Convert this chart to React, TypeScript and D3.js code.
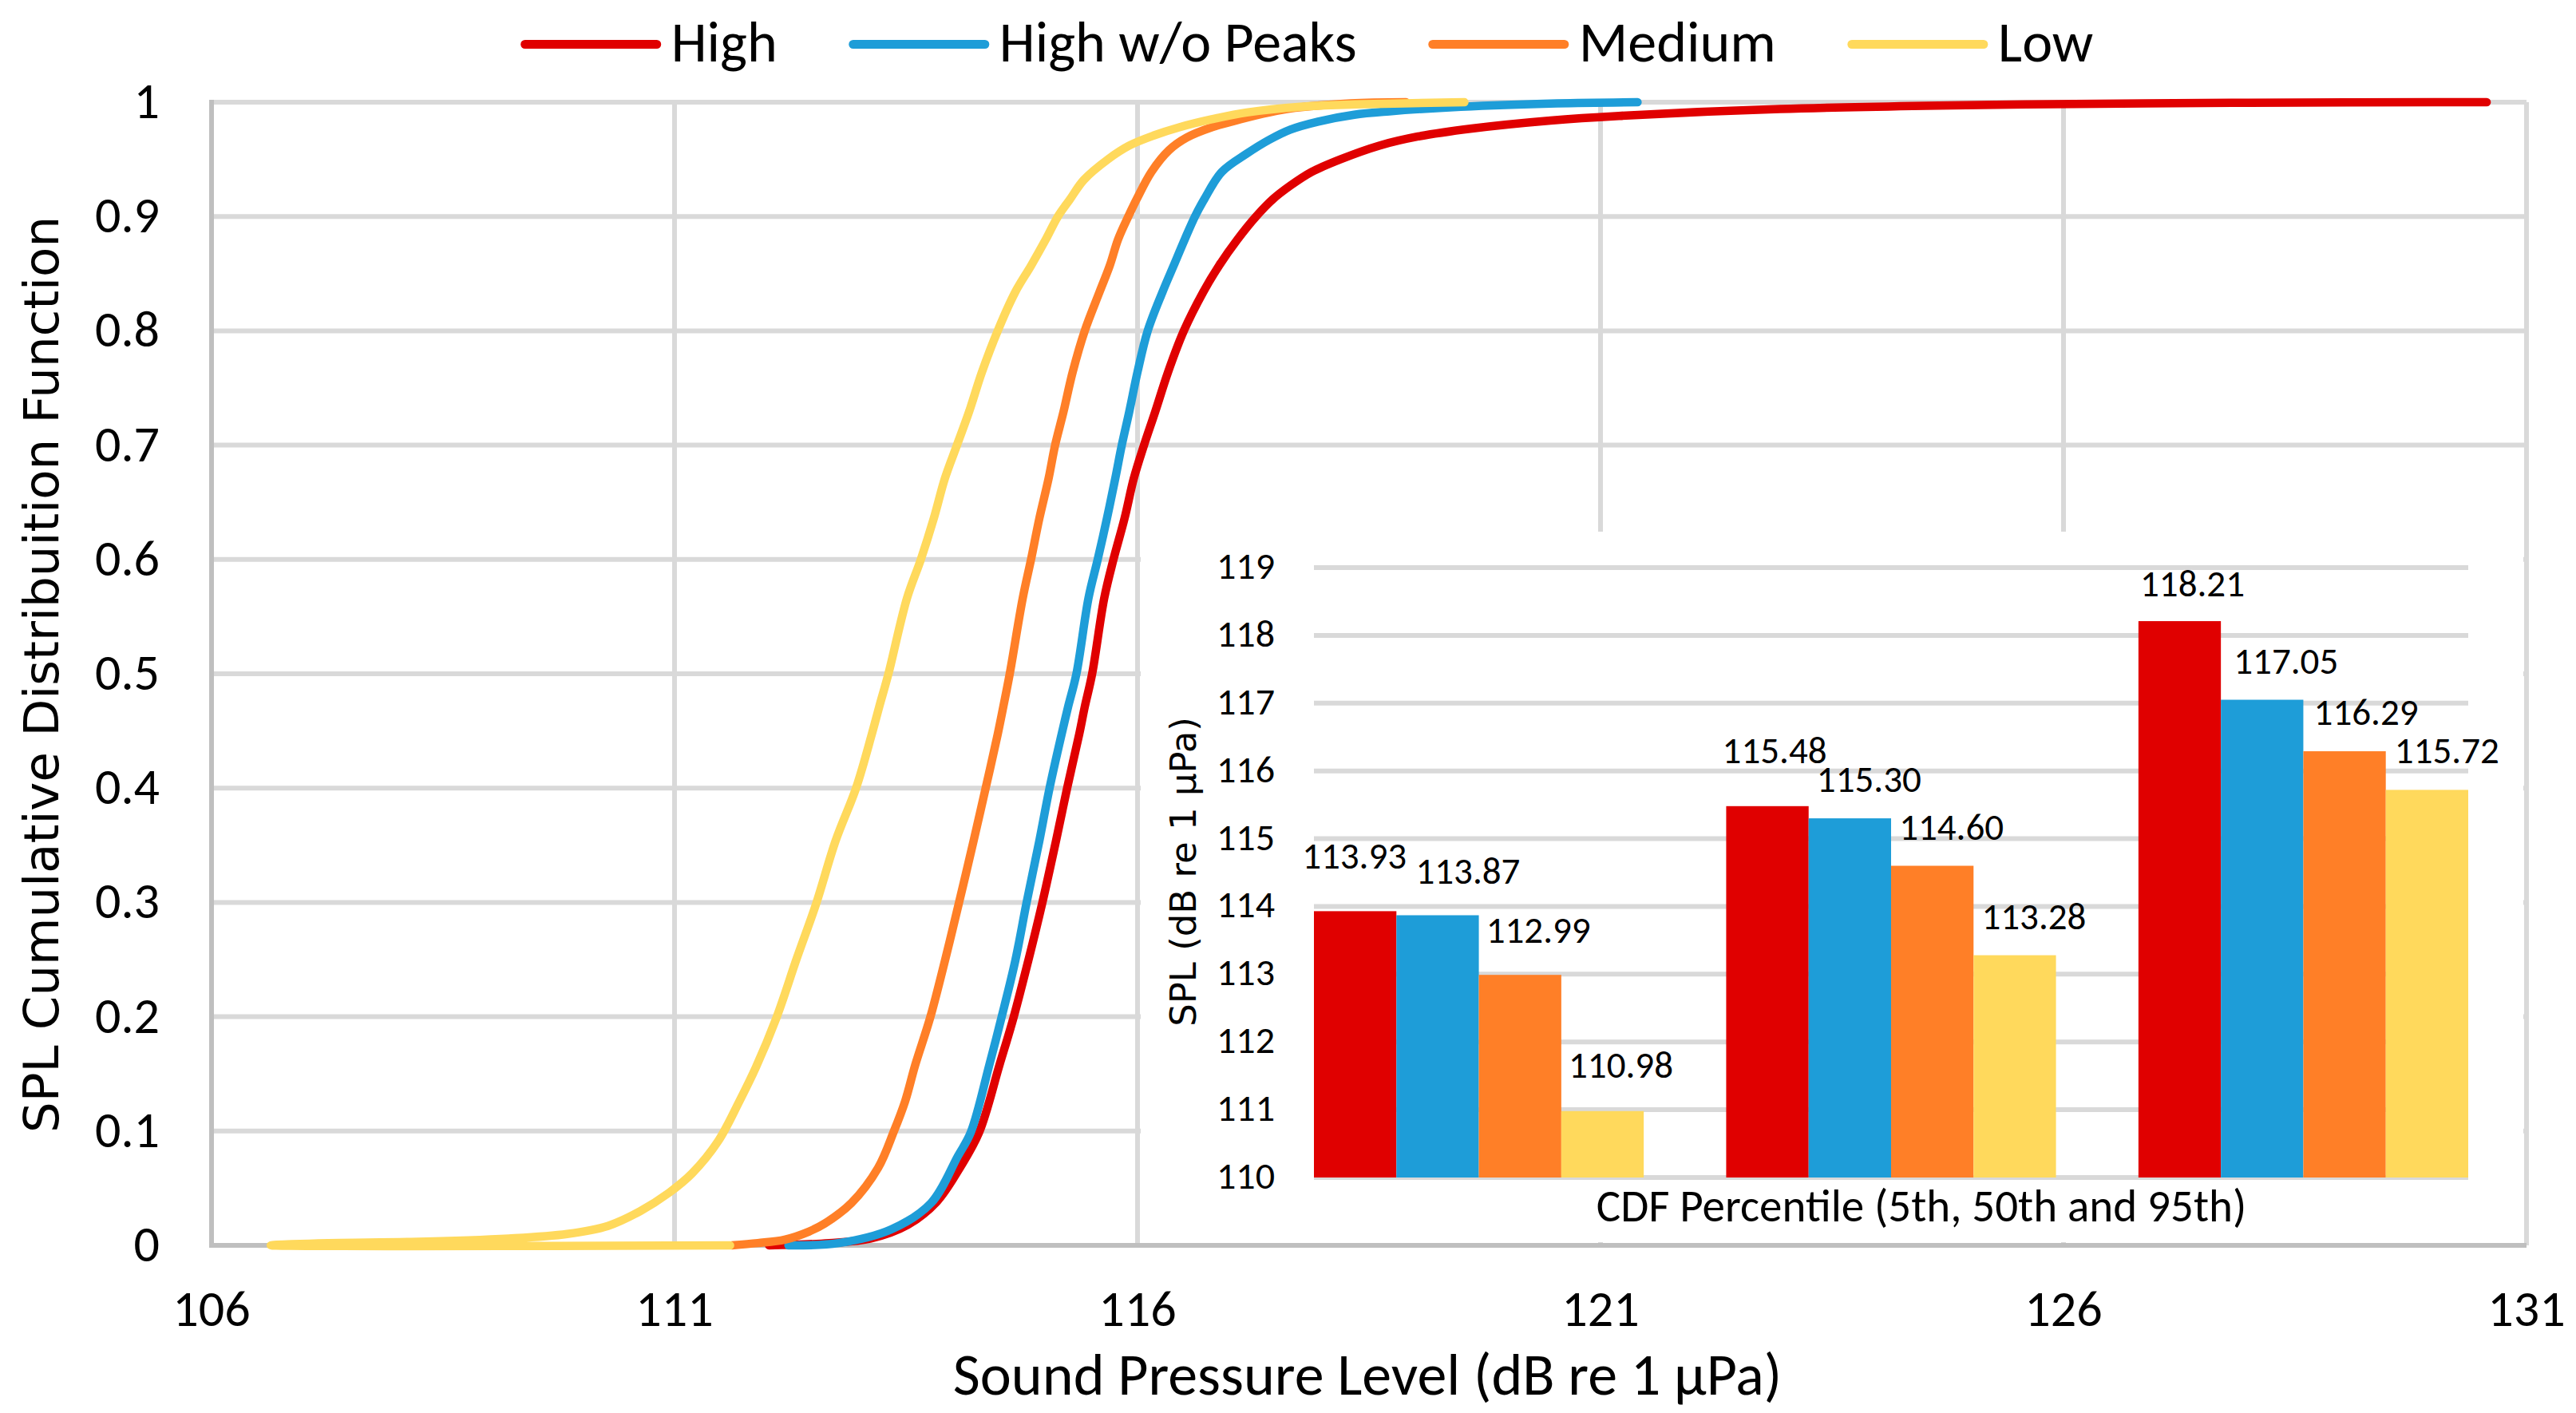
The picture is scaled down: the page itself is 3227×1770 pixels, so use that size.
import { useEffect, useRef } from 'react'
import * as d3 from 'd3'

// CDF curves, [SPL (dB), cumulative probability]
const highCdf: [number, number][] = [
  [112.02, 0], [112.67, 0.002], [113.12, 0.006], [113.52, 0.018], [113.83, 0.038], [114.09, 0.069],
  [114.29, 0.099], [114.51, 0.158], [114.66, 0.199], [114.82, 0.249], [114.97, 0.299], [115.12, 0.354],
  [115.24, 0.4], [115.37, 0.447], [115.43, 0.471], [115.51, 0.5], [115.64, 0.566], [115.74, 0.6],
  [115.86, 0.636], [115.96, 0.671], [116.07, 0.7], [116.19, 0.729], [116.33, 0.764], [116.5, 0.8],
  [116.71, 0.834], [116.88, 0.857], [117.08, 0.88], [117.28, 0.9], [117.46, 0.915], [117.65, 0.927],
  [117.88, 0.939], [118.19, 0.95], [118.61, 0.962], [119.03, 0.97], [119.61, 0.977], [120.46, 0.984],
  [121.2, 0.988], [122.94, 0.994], [125.6, 0.998], [128.0, 0.9995], [130.57, 1],
]
const highNoPeaksCdf: [number, number][] = [
  [112.23, 0], [112.77, 0.002], [113.34, 0.014], [113.77, 0.037], [114.06, 0.078], [114.2, 0.099],
  [114.4, 0.158], [114.53, 0.199], [114.68, 0.249], [114.8, 0.299], [114.94, 0.354], [115.05, 0.4],
  [115.18, 0.447], [115.25, 0.471], [115.34, 0.5], [115.47, 0.566], [115.57, 0.6], [115.67, 0.636],
  [115.76, 0.671], [115.83, 0.7], [115.91, 0.729], [116.0, 0.764], [116.11, 0.8], [116.27, 0.834],
  [116.39, 0.857], [116.51, 0.88], [116.62, 0.9], [116.72, 0.915], [116.91, 0.939], [117.18, 0.955],
  [117.42, 0.967], [117.65, 0.976], [117.95, 0.983], [118.34, 0.989], [118.72, 0.992], [119.49, 0.996],
  [120.53, 0.999], [121.4, 1],
]
const mediumCdf: [number, number][] = [
  [111.62, 0], [111.9, 0.002], [112.19, 0.005], [112.45, 0.012], [112.62, 0.019], [112.91, 0.037],
  [113.2, 0.068], [113.37, 0.1], [113.49, 0.126], [113.6, 0.158], [113.76, 0.199], [113.92, 0.249],
  [114.07, 0.299], [114.23, 0.354], [114.36, 0.4], [114.49, 0.447], [114.55, 0.471], [114.62, 0.5],
  [114.76, 0.566], [114.85, 0.6], [114.94, 0.636], [115.04, 0.671], [115.11, 0.7], [115.2, 0.729],
  [115.3, 0.764], [115.43, 0.8], [115.59, 0.834], [115.7, 0.857], [115.79, 0.88], [115.9, 0.9],
  [115.99, 0.915], [116.15, 0.939], [116.34, 0.958], [116.53, 0.969], [116.8, 0.978], [117.11, 0.985],
  [117.42, 0.991], [117.7, 0.995], [118.3, 0.999], [118.9, 1],
]
const lowCdf: [number, number][] = [
  [111.6, 0], [106.64, 0], [107.26, 0.002], [108.15, 0.003], [109.21, 0.006], [109.84, 0.01],
  [110.28, 0.017], [110.63, 0.03], [110.94, 0.046], [111.19, 0.063], [111.47, 0.091], [111.7, 0.126],
  [111.88, 0.156], [112.1, 0.199], [112.32, 0.251], [112.53, 0.299], [112.74, 0.354], [112.96, 0.4],
  [113.13, 0.447], [113.21, 0.471], [113.31, 0.5], [113.51, 0.566], [113.66, 0.6], [113.8, 0.636],
  [113.92, 0.671], [114.05, 0.7], [114.18, 0.729], [114.32, 0.764], [114.49, 0.8], [114.68, 0.834],
  [114.85, 0.857], [115.01, 0.88], [115.14, 0.9], [115.27, 0.915], [115.42, 0.932], [115.68, 0.95],
  [115.91, 0.962], [116.18, 0.971], [116.45, 0.978], [116.8, 0.985], [117.18, 0.991], [117.76, 0.996],
  [118.34, 0.998], [119.53, 1],
]

const seriesNames = ['High', 'High w/o Peaks', 'Medium', 'Low']
const seriesColors = ['#E00000', '#1E9DD8', '#FF7F27', '#FFD95C']
const cdfSeries = [highCdf, highNoPeaksCdf, mediumCdf, lowCdf]

const xTicks = [106, 111, 116, 121, 126, 131]
const yTicks = [0, 0.1, 0.2, 0.3, 0.4, 0.5, 0.6, 0.7, 0.8, 0.9, 1]
const yTickLabels = ['0', '0.1', '0.2', '0.3', '0.4', '0.5', '0.6', '0.7', '0.8', '0.9', '1']

// inset: SPL at the 5th, 50th and 95th CDF percentile
const percentiles = ['5th', '50th', '95th']
const pctHigh = [113.93, 115.48, 118.21]
const pctHighNoPeaks = [113.87, 115.3, 117.05]
const pctMedium = [112.99, 114.6, 116.29]
const pctLow = [110.98, 113.28, 115.72]
const pctSeries = [pctHigh, pctHighNoPeaks, pctMedium, pctLow]
const insetTicks = [110, 111, 112, 113, 114, 115, 116, 117, 118, 119]

const CAL = "Carlito, Calibri, Lato, 'Open Sans', sans-serif"
const WIDE = "'DejaVu Sans', Verdana, sans-serif"

// hand-placed data label nudges (dx, extra lift) per [percentile][series]
const labelNudge = [
  [[-25, 20], [14, 6], [-1, 7], [-1, 9]],
  [[-15, 21], [0, 0], [0, 0], [0, 0]],
  [[-8, -2], [6, 0], [3, 0], [1, 0]],
]

export default function App() {
  const ref = useRef<SVGSVGElement>(null)

  useEffect(() => {
    document.body.style.margin = '0'
    const W = 3227, H = 1770
    const svg = d3.select(ref.current!)
    svg.selectAll('*').remove()
    svg.attr('width', W).attr('height', H)
    svg.append('rect').attr('width', W).attr('height', H).attr('fill', '#fff')

    const x = d3.scaleLinear().domain([106, 131]).range([265, 3165])
    const y = d3.scaleLinear().domain([0, 1]).range([1560, 128])

    // gridlines
    const grid = svg.append('g').attr('stroke', '#D9D9D9').attr('stroke-width', 6)
    yTicks.filter(v => v > 0).forEach(v => {
      grid.append('line').attr('x1', x(106)).attr('x2', x(131)).attr('y1', y(v)).attr('y2', y(v))
    })
    xTicks.filter(v => v > 106 && v < 131).forEach(v => {
      grid.append('line').attr('x1', x(v)).attr('x2', x(v)).attr('y1', y(0)).attr('y2', y(1))
    })

    // tick labels
    yTicks.forEach((v, i) => {
      svg.append('text').attr('x', 200).attr('y', y(v) + 20).attr('text-anchor', 'end')
        .attr('font-family', CAL).attr('font-size', 64).attr('fill', '#000').text(yTickLabels[i])
    })
    xTicks.forEach(v => {
      svg.append('text').attr('x', x(v)).attr('y', 1661).attr('text-anchor', 'middle')
        .attr('font-family', CAL).attr('font-size', 64).attr('fill', '#000').text(v)
    })

    // axis titles
    svg.append('text').attr('transform', 'translate(73,845) rotate(-90)').attr('text-anchor', 'middle')
      .attr('font-family', WIDE).attr('font-size', 61).attr('fill', '#000')
      .text('SPL Cumulative Distribuition Function')
    svg.append('text').attr('x', 1713).attr('y', 1747).attr('text-anchor', 'middle')
      .attr('font-family', CAL).attr('font-size', 74).attr('fill', '#000')
      .text('Sound Pressure Level (dB re 1 µPa)')

    // inset chart (white panel over the main plot)
    svg.append('rect').attr('x', 1429).attr('y', 666).attr('width', 3161 - 1429).attr('height', 1556 - 666)
      .attr('fill', '#fff')

    const xb = d3.scaleBand().domain(percentiles).range([1646, 3092]).paddingInner(0.2).paddingOuter(0)
    const xs = d3.scaleBand().domain(seriesNames).range([0, xb.bandwidth()])
    const yb = d3.scaleLinear().domain([110, 119]).range([1475, 711])

    const ig = svg.append('g').attr('stroke', '#D9D9D9').attr('stroke-width', 6)
    insetTicks.forEach(v => {
      ig.append('line').attr('x1', 1646).attr('x2', 3092).attr('y1', yb(v)).attr('y2', yb(v))
    })
    insetTicks.forEach(v => {
      svg.append('text').attr('x', 1597).attr('y', yb(v) + 14).attr('text-anchor', 'end')
        .attr('font-family', CAL).attr('font-size', 48).attr('fill', '#000').text(v)
    })

    pctSeries.forEach((vals, si) => {
      vals.forEach((v, ci) => {
        const bx = xb(percentiles[ci])! + xs(seriesNames[si])!
        svg.append('rect').attr('x', bx).attr('y', yb(v))
          .attr('width', xs.bandwidth()).attr('height', yb(110) - yb(v))
          .attr('fill', seriesColors[si])
      })
    })
    pctSeries.forEach((vals, si) => {
      vals.forEach((v, ci) => {
        const [ndx, ndy] = labelNudge[ci][si]
        const cx = xb(percentiles[ci])! + xs(seriesNames[si])! + xs.bandwidth() / 2 + 24 + ndx
        const cy = yb(v) - 47 - ndy
        svg.append('text').attr('x', cx).attr('y', cy + 14).attr('text-anchor', 'middle')
          .attr('font-family', CAL).attr('font-size', 47).attr('fill', '#000')
          .text(d3.format('.2f')(v))
      })
    })

    svg.append('text').attr('transform', 'translate(1498,1092) rotate(-90)').attr('text-anchor', 'middle')
      .attr('font-family', WIDE).attr('font-size', 45).attr('fill', '#000')
      .text('SPL (dB re 1 µPa)')
    svg.append('text').attr('x', 2407).attr('y', 1530).attr('text-anchor', 'middle')
      .attr('font-family', CAL).attr('font-size', 57).attr('fill', '#000')
      .text('CDF Percentile (5th, 50th and 95th)')

    // main plot frame (drawn over the inset panel)
    svg.append('line').attr('x1', x(131)).attr('x2', x(131)).attr('y1', y(0)).attr('y2', y(1))
      .attr('stroke', '#D9D9D9').attr('stroke-width', 6)
    svg.append('line').attr('x1', x(106)).attr('x2', x(106)).attr('y1', y(0) + 3).attr('y2', y(1) - 3)
      .attr('stroke', '#BFBFBF').attr('stroke-width', 6)
    svg.append('line').attr('x1', x(106) - 3).attr('x2', x(131)).attr('y1', y(0)).attr('y2', y(0))
      .attr('stroke', '#BFBFBF').attr('stroke-width', 6)

    // CDF curves on top
    const line = d3.line<[number, number]>()
      .x(d => x(d[0])).y(d => y(d[1]))
      .curve(d3.curveCatmullRom.alpha(0.5))
    cdfSeries.forEach((s, i) => {
      svg.append('path').datum(s).attr('fill', 'none')
        .attr('stroke', seriesColors[i]).attr('stroke-width', 10.5)
        .attr('stroke-linecap', 'round').attr('stroke-linejoin', 'round')
        .attr('d', line as any)
    })

    // legend
    const leg = svg.append('g')
    const items = seriesNames.map((name, i) => {
      const g = leg.append('g')
      g.append('line').attr('x1', 0).attr('x2', 165).attr('y1', 55.5).attr('y2', 55.5)
        .attr('stroke', seriesColors[i]).attr('stroke-width', 11).attr('stroke-linecap', 'round')
      const t = g.append('text').attr('x', 183).attr('y', 77)
        .attr('font-family', CAL).attr('font-size', 72).attr('fill', '#000').text(name)
      const w = (t.node() as SVGTextElement).getComputedTextLength()
      return { g, w: 183 + w }
    })
    const gap = 95
    const total = d3.sum(items, d => d.w) + gap * (items.length - 1)
    let cx = 1640 - total / 2
    items.forEach(it => {
      it.g.attr('transform', `translate(${cx},0)`)
      cx += it.w + gap
    })
  }, [])

  return <svg ref={ref} style={{ display: 'block' }} />
}
